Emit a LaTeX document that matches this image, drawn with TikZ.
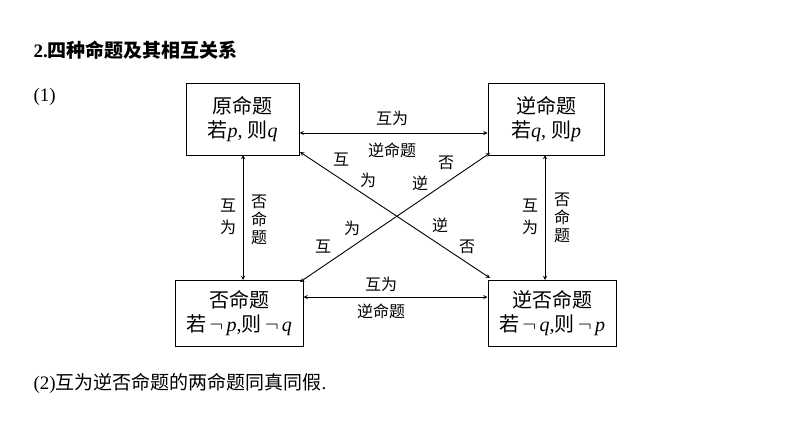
\documentclass[tikz,border=0pt]{standalone}
\usepackage{fontspec}
\setmainfont{Liberation Serif}
\newfontfamily\cjk{Noto Sans CJK SC}
\newcommand{\C}[1]{{\cjk #1}}
\begin{document}
\begin{tikzpicture}[x=1pt,y=-1pt,
  box/.style={draw,line width=1pt,align=center,font=\fontsize{20}{24}\selectfont,inner sep=0pt},
  lab/.style={font=\fontsize{16}{18}\selectfont,inner sep=0pt},
  arr/.style={<->,>=stealth,line width=0.9pt}]
\useasboundingbox (0,0) rectangle (794,447);
\node[anchor=west,font=\bfseries\fontsize{19}{22}\selectfont] (t) at (30,50) {2.\C{四种命题及其相互关系}};
\node[anchor=west,font=\fontsize{19}{22}\selectfont] (one) at (30,97) {(1)};
\node[anchor=west,font=\fontsize{19}{22}\selectfont] (two) at (30,383) {(2)\C{互为逆否命题的两命题同真同假}.};
\node[box,minimum width=113,minimum height=72] (A) at (242.5,119) {\C{原命题}\\\C{若}\textit{p}, \C{则}\textit{q}};
\node[box,minimum width=116,minimum height=72] (B) at (546,119) {\C{逆命题}\\\C{若}\textit{q}, \C{则}\textit{p}};
\node[box,minimum width=128,minimum height=66] (C) at (239,313) {\C{否命题}\\\C{若}\,$\neg$\,\textit{p},\C{则}\,$\neg$\,\textit{q}};
\node[box,minimum width=128,minimum height=66] (D) at (552,313) {\C{逆否命题}\\\C{若}\,$\neg$\,\textit{q},\C{则}\,$\neg$\,\textit{p}};
\draw[arr] (A.east|-0,133) -- (B.west|-0,133);
\draw[arr] (C.east|-0,297) -- (D.west|-0,297);
\draw[arr] (243,155) -- (243,280);
\draw[arr] (545,155) -- (545,280);
\draw[arr] (300,152) -- (490,278);
\draw[arr] (300,282) -- (490,153);
\node[lab] (l1) at (392,118) {\C{互为}};
\node[lab] (l2) at (392,150) {\C{逆命题}};
\node[lab] (l3) at (381,284) {\C{互为}};
\node[lab] (l4) at (381,311) {\C{逆命题}};
\node[lab,align=center] (l5) at (228,217) {\C{互}\\[4pt]\C{为}};
\node[lab,align=center] (l6) at (259,220) {\C{否}\\\C{命}\\\C{题}};
\node[lab,align=center] (l7) at (530,217) {\C{互}\\[4pt]\C{为}};
\node[lab,align=center] (l8) at (562,218) {\C{否}\\\C{命}\\\C{题}};
\node[lab] at (341,160) {\C{互}};
\node[lab] at (368,180) {\C{为}};
\node[lab] at (420,183) {\C{逆}};
\node[lab] at (446,163) {\C{否}};
\node[lab] at (352,228) {\C{为}};
\node[lab] at (323,247) {\C{互}};
\node[lab] at (440,225) {\C{逆}};
\node[lab] at (467,247) {\C{否}};
\end{tikzpicture}
\end{document}
